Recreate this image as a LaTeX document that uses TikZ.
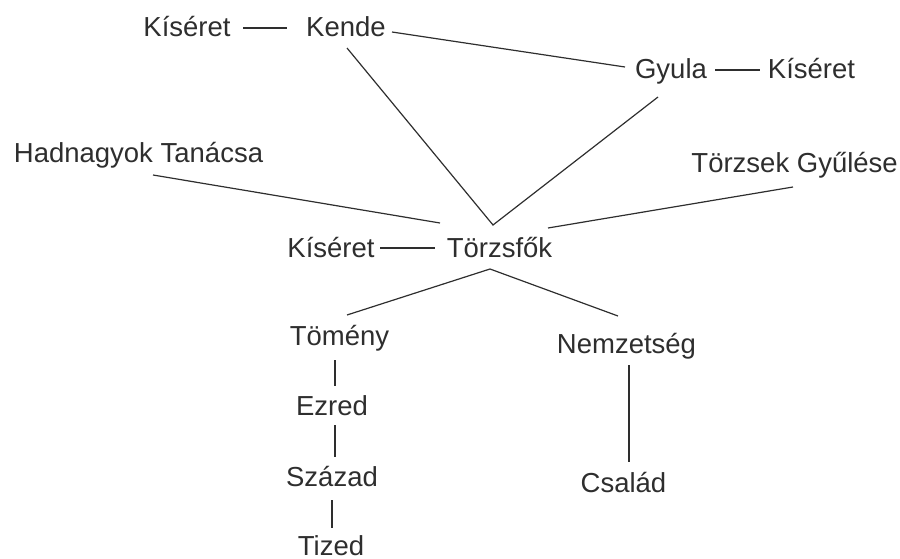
\documentclass[tikz,border=0pt]{standalone}
\usepackage{fontspec}
\setmainfont{Liberation Sans}
\begin{document}
\begin{tikzpicture}[x=1pt,y=-1pt,
  lbl/.style={anchor=base,inner sep=0pt,font=\fontsize{27.5}{33}\selectfont,text=black!82},
  conn/.style={line width=1.2pt,draw=black!82}]
\useasboundingbox (0,0) rectangle (900,559);
% nodes
\node[lbl] (ks1) at (187,37) {Kíséret};
\node[lbl] (kende) at (346,37) {Kende};
\node[lbl] (gyula) at (671,79) {Gyula};
\node[lbl] (ks2) at (811.5,79) {Kíséret};
\node[lbl] (hadn) at (138.5,163) {Hadnagyok Tanácsa};
\node[lbl,anchor=base east] (tgy) at (898,172) {Törzsek Gyűlése};
\node[lbl] (ks3) at (331,257) {Kíséret};
\node[lbl] (tzf) at (499.5,257) {Törzsfők};
\node[lbl] (tomeny) at (339.5,345) {Tömény};
\node[lbl] (nemz) at (626.5,353) {Nemzetség};
\node[lbl] (ezred) at (332,415) {Ezred};
\node[lbl] (szazad) at (332,486) {Század};
\node[lbl] (tized) at (331,555) {Tized};
\node[lbl] (csalad) at (623.5,492) {Család};
% connectors
\draw[conn] ([shift={(56,-9)}]ks1.base) -- ([shift={(-59,-9)}]kende.base);
\draw[conn] ([shift={(46,-5)}]kende.base) -- ([shift={(-46,-12)}]gyula.base);
\draw[conn] ([shift={(1,11)}]kende.base) -- ([shift={(-6.5,-32)}]tzf.base)
            -- ([shift={(-13,18)}]gyula.base);
\draw[conn] ([shift={(44,-9)}]gyula.base) -- ([shift={(-51.5,-9)}]ks2.base);
\draw[conn] ([shift={(14.5,12)}]hadn.base) -- ([shift={(-59.5,-34)}]tzf.base);
\draw[conn] ([shift={(-105,15)}]tgy.base east) -- ([shift={(48.5,-29)}]tzf.base);
\draw[conn] ([shift={(49,-9)}]ks3.base) -- ([shift={(-64.5,-9)}]tzf.base);
\draw[conn] ([shift={(7.5,-30)}]tomeny.base) -- ([shift={(-9.5,12)}]tzf.base)
            -- ([shift={(-8.5,-37)}]nemz.base);
\draw[conn] ([shift={(-4.5,15)}]tomeny.base) -- ([shift={(3,-29)}]ezred.base);
\draw[conn] ([shift={(3,10)}]ezred.base) -- ([shift={(3,-29)}]szazad.base);
\draw[conn] ([shift={(0,14)}]szazad.base) -- ([shift={(1,-27)}]tized.base);
\draw[conn] ([shift={(2.5,12)}]nemz.base) -- ([shift={(5.5,-30)}]csalad.base);
\end{tikzpicture}
\end{document}
